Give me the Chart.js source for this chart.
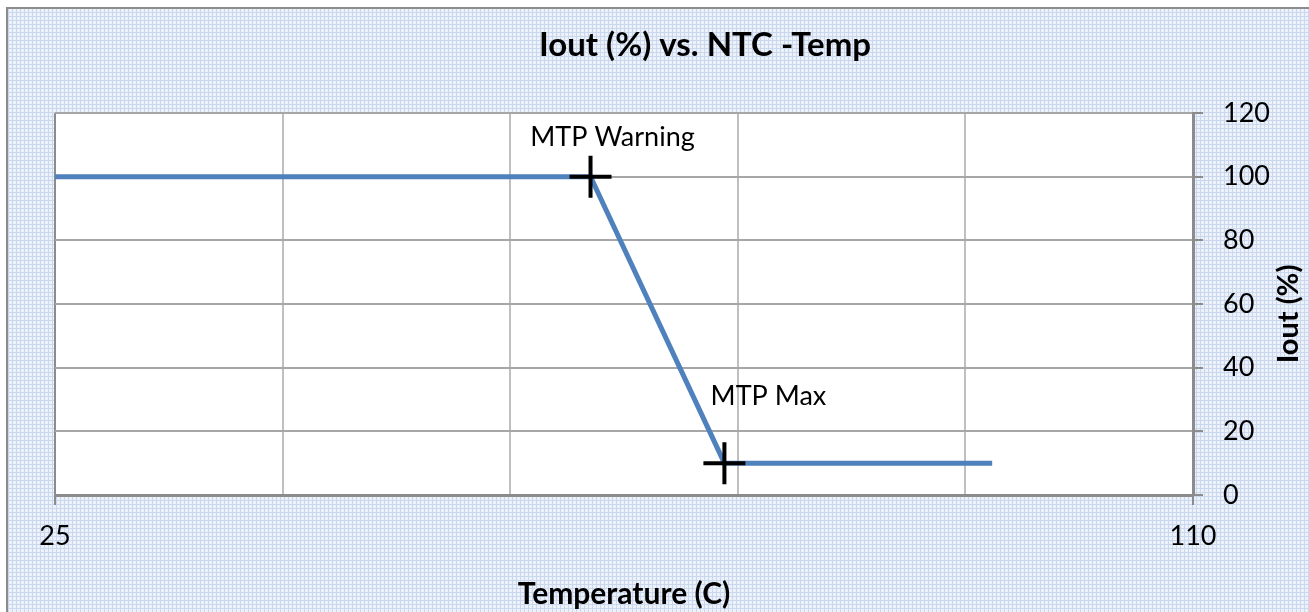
<!DOCTYPE html>
<html>
<head>
<meta charset="utf-8">
<script src="https://cdn.jsdelivr.net/npm/chart.js@4"></script>
<style>
  html, body { margin: 0; padding: 0; background: #fff; }
  #wrap { width: 1309px; height: 612px; }
</style>
</head>
<body>
<div id="wrap"><canvas id="chart"></canvas></div>
<script>
const temps = [25, 65, 75, 95];
const iout = [100, 100, 10, 10];
const markerTemps = [65, 75];
const markerIout = [100, 10];
const markerLabels = ["MTP Warning", "MTP Max"];
const xLabelTicks = [25, 110];

const FONT = "Lato";

// light blue checkered fill like the Excel chart area
function makePattern() {
  const c = document.createElement("canvas");
  c.width = 4; c.height = 4;
  const g = c.getContext("2d");
  g.fillStyle = "#edf2fa";
  g.fillRect(0, 0, 4, 4);
  g.fillStyle = "#c9d8ef";
  g.fillRect(0, 0, 4, 1);
  g.fillRect(0, 0, 1, 4);
  return g.createPattern(c, "repeat");
}

const frame = {
  id: "frame",
  beforeDraw(chart) {
    const { ctx, chartArea: a } = chart;
    ctx.save();
    ctx.fillStyle = makePattern();
    ctx.fillRect(7, 8, chart.width - 7, chart.height - 8);
    ctx.strokeStyle = "#8c8c8c";
    ctx.lineWidth = 2;
    ctx.beginPath();
    ctx.moveTo(7, chart.height);
    ctx.lineTo(7, 8);
    ctx.lineTo(chart.width, 8);
    ctx.stroke();
    ctx.fillStyle = "#fff";
    ctx.fillRect(a.left, a.top, a.right - a.left, a.bottom - a.top);
    ctx.restore();
  },
  afterDraw(chart) {
    const { ctx } = chart;
    ctx.save();
    ctx.fillStyle = "#000";
    ctx.textAlign = "center";
    ctx.textBaseline = "middle";
    ctx.font = "bold 33px " + FONT;
    ctx.fillText("Iout (%) vs. NTC -Temp", 705, 45);

    ctx.save();
    ctx.translate(1289, 314);
    ctx.rotate(-Math.PI / 2);
    ctx.font = "bold 29px " + FONT;
    ctx.fillText("Iout (%)", 0, 0);
    ctx.restore();

    // marker labels
    const offsets = [[22, -39], [44, -67]];
    const xs = chart.scales.x, ys = chart.scales.y;
    ctx.font = "27px " + FONT;
    markerLabels.forEach((t, i) => {
      const px = xs.getPixelForValue(markerTemps[i]);
      const py = ys.getPixelForValue(markerIout[i]);
      ctx.fillText(t, px + offsets[i][0], py + offsets[i][1]);
    });
    ctx.restore();
  }
};

const ctx = document.getElementById("chart");
const myChart = new Chart(ctx, {
  type: "scatter",
  data: {
    datasets: [{
      label: "Iout",
      data: temps.map((t, i) => ({ x: t, y: iout[i] })),
      showLine: true,
      borderColor: "#4f81bd",
      borderWidth: 5,
      pointRadius: 0,
      order: 2
    }, {
      label: "MTP",
      data: markerTemps.map((t, i) => ({ x: t, y: markerIout[i] })),
      pointStyle: "cross",
      pointRadius: 21,
      pointBorderWidth: 4,
      borderColor: "#000",
      backgroundColor: "#000",
      order: 1
    }]
  },
  options: {
    responsive: true,
    maintainAspectRatio: false,
    animation: false,
    layout: { padding: { left: 55, top: 113, right: 0, bottom: 0 } },
    scales: {
      x: {
        type: "linear",
        min: 25,
        max: 110,
        afterFit(s) { s.height = 117; },
        ticks: {
          stepSize: 17,
          autoSkip: false,
          maxRotation: 0,
          padding: 15,
          color: "#000",
          font: { family: FONT, size: 27 },
          callback: v => xLabelTicks.includes(v) ? v : ""
        },
        grid: {
          color: c => c.index === 0 ? "#8c8c8c" : "#bfbfbf",
          lineWidth: 2,
          tickLength: 10,
          tickColor: c => (c.tick && xLabelTicks.includes(c.tick.value)) ? "#8c8c8c" : "rgba(0,0,0,0)",
          tickWidth: 2
        },
        border: { color: "#8c8c8c", width: 3 },
        title: {
          display: true,
          text: "Temperature (C)",
          color: "#000",
          padding: { top: 0, bottom: 0 },
          font: { family: FONT, size: 30, weight: "bold" }
        }
      },
      y: {
        position: "right",
        min: 0,
        max: 120,
        afterFit(s) { s.width = 116; },
        ticks: {
          stepSize: 20,
          padding: 20,
          color: "#000",
          font: { family: FONT, size: 27 }
        },
        grid: {
          color: "#a6a6a6",
          lineWidth: 2,
          tickLength: 10,
          tickColor: "#8c8c8c",
          tickWidth: 2
        },
        border: { color: "#8c8c8c", width: 3 }
      }
    },
    plugins: {
      legend: { display: false },
      title: { display: false },
      tooltip: { enabled: false }
    }
  },
  plugins: [frame]
});
</script>
</body>
</html>
